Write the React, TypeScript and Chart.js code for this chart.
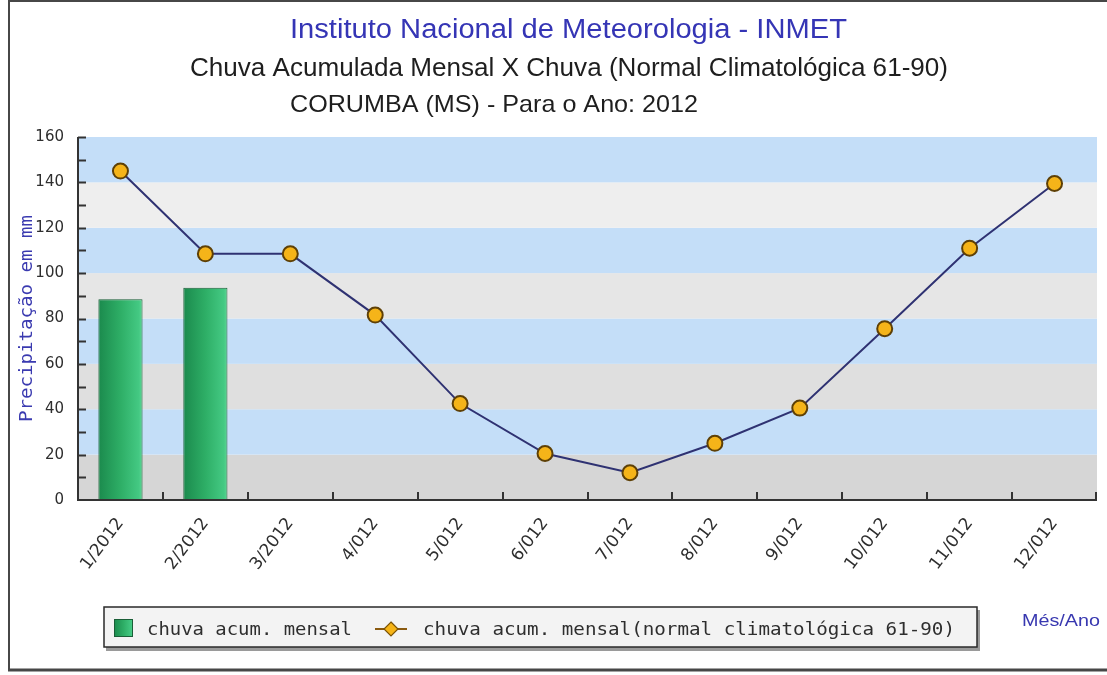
import React, { useEffect, useRef } from "react";
import { Chart, registerables } from "chart.js";

Chart.register(...registerables);

const categories = [
  "1/2012", "2/2012", "3/2012", "4/012", "5/012", "6/012",
  "7/012", "8/012", "9/012", "10/012", "11/012", "12/012",
];
const monthlyRain: (number | null)[] = [88.5, 93.5, null, null, null, null, null, null, null, null, null, null];
const normalRain = [145, 108.5, 108.5, 81.5, 42.5, 20.5, 12, 25, 40.5, 75.5, 111, 139.5];
const seriesLabels = ["chuva acum. mensal", "chuva acum. mensal(normal climatológica 61-90)"];
const titleLines = [
  "Instituto Nacional de Meteorologia - INMET",
  "Chuva Acumulada Mensal X Chuva (Normal Climatológica 61-90)",
  "CORUMBA (MS) - Para o Ano: 2012",
];
const yAxisTitle = "Precipitação em mm";
const xAxisTitle = "Més/Ano";
const yMin = 0;
const yMax = 160;
const yStep = 20;
const yMinorStep = 10;

function fitText(ctx: CanvasRenderingContext2D, text: string, left: number, baseline: number, width: number, font: string, color: string) {
  ctx.save();
  ctx.font = font;
  ctx.fillStyle = color;
  ctx.textAlign = "left";
  ctx.textBaseline = "alphabetic";
  const w = ctx.measureText(text).width;
  ctx.translate(left, baseline);
  ctx.scale(width / w, 1);
  ctx.fillText(text, 0, 0);
  ctx.restore();
}

function greenGradient(ctx: CanvasRenderingContext2D, x0: number, x1: number) {
  const g = ctx.createLinearGradient(x0, 0, x1, 0);
  g.addColorStop(0, "#1b8a4d");
  g.addColorStop(0.5, "#2eae66");
  g.addColorStop(0.92, "#44c983");
  g.addColorStop(1, "#5fd896");
  return g;
}

const decorPlugin = {
  id: "decor",
  beforeDraw(chart: any) {
    const { ctx, width, height } = chart;
    ctx.save();
    ctx.fillStyle = "#ffffff";
    ctx.fillRect(0, 0, width, height);
    ctx.restore();
  },
  beforeDatasetsDraw(chart: any) {
    const { ctx, chartArea } = chart;
    const ys = chart.scales.y;
    const grays = ["#d6d6d6", "#dfdfdf", "#e6e6e6", "#eeeeee"];
    ctx.save();
    for (let v = yMin, i = 0; v < yMax; v += yStep, i++) {
      const yTop = ys.getPixelForValue(v + yStep);
      const yBot = ys.getPixelForValue(v);
      ctx.fillStyle = i % 2 === 0 ? grays[Math.floor(i / 2)] : "#c4def8";
      ctx.fillRect(chartArea.left, yTop, chartArea.right - chartArea.left, yBot - yTop);
    }
    ctx.restore();
  },
  afterDraw(chart: any) {
    const { ctx, chartArea } = chart;
    const xs = chart.scales.x;
    const ys = chart.scales.y;
    ctx.save();
    // axes
    ctx.strokeStyle = "#333333";
    ctx.lineWidth = 2;
    ctx.beginPath();
    ctx.moveTo(chartArea.left, chartArea.top);
    ctx.lineTo(chartArea.left, chartArea.bottom);
    ctx.lineTo(chartArea.right, chartArea.bottom);
    ctx.stroke();
    // y ticks
    ctx.beginPath();
    for (let v = yMin + yMinorStep; v <= yMax; v += yMinorStep) {
      const y = Math.round(ys.getPixelForValue(v)) + 0.5;
      ctx.moveTo(chartArea.left, y);
      ctx.lineTo(chartArea.left + 8, y);
    }
    // x ticks at category boundaries
    for (let i = 1; i <= categories.length; i++) {
      const x = i < categories.length
        ? (xs.getPixelForValue(i - 1) + xs.getPixelForValue(i)) / 2
        : chartArea.right - 1;
      ctx.moveTo(Math.round(x), chartArea.bottom);
      ctx.lineTo(Math.round(x), chartArea.bottom - 8);
    }
    ctx.stroke();
    ctx.restore();

    // titles
    fitText(ctx, titleLines[0], 290, 38, 557, "27px 'Liberation Sans', Arial, sans-serif", "#3535b5");
    fitText(ctx, titleLines[1], 190, 76, 758, "25px 'Liberation Sans', Arial, sans-serif", "#1e1e1e");
    fitText(ctx, titleLines[2], 290, 112, 408, "24px 'Liberation Sans', Arial, sans-serif", "#1e1e1e");

    // y title
    ctx.save();
    ctx.translate(32, (chartArea.top + chartArea.bottom) / 2);
    ctx.rotate(-Math.PI / 2);
    ctx.font = "18px 'DejaVu Sans Mono', monospace";
    const yw = ctx.measureText(yAxisTitle).width;
    ctx.scale(207 / yw, 1);
    ctx.fillStyle = "#3a3ab0";
    ctx.textAlign = "center";
    ctx.textBaseline = "alphabetic";
    ctx.fillText(yAxisTitle, 0, 0);
    ctx.restore();

    // legend box
    ctx.save();
    ctx.fillStyle = "#9a9a9a";
    ctx.fillRect(106, 610, 874, 41);
    ctx.fillStyle = "#f3f3f3";
    ctx.fillRect(104, 607, 873, 40);
    ctx.strokeStyle = "#2a2a2a";
    ctx.lineWidth = 1.5;
    ctx.strokeRect(104, 607, 873, 40);
    // green square
    ctx.fillStyle = greenGradient(ctx, 114, 133);
    ctx.fillRect(114, 619, 19, 18);
    ctx.strokeStyle = "#1a5e37";
    ctx.lineWidth = 1;
    ctx.strokeRect(114.5, 619.5, 18, 17);
    // line icon
    ctx.strokeStyle = "#8a5a10";
    ctx.lineWidth = 2;
    ctx.beginPath();
    ctx.moveTo(375, 629);
    ctx.lineTo(407, 629);
    ctx.stroke();
    ctx.beginPath();
    ctx.moveTo(391, 622);
    ctx.lineTo(398, 629);
    ctx.lineTo(391, 636);
    ctx.lineTo(384, 629);
    ctx.closePath();
    ctx.fillStyle = "#f6b417";
    ctx.fill();
    ctx.strokeStyle = "#7a5206";
    ctx.lineWidth = 1.2;
    ctx.stroke();
    ctx.restore();
    fitText(ctx, seriesLabels[0], 147, 635, 205, "18px 'DejaVu Sans Mono', monospace", "#2e2e2e");
    fitText(ctx, seriesLabels[1], 423, 635, 532, "18px 'DejaVu Sans Mono', monospace", "#2e2e2e");

    // x title
    fitText(ctx, xAxisTitle, 1022, 626, 78, "17px 'Liberation Sans', Arial, sans-serif", "#3838b0");

    // frame
    ctx.save();
    ctx.strokeStyle = "#474747";
    ctx.lineWidth = 2;
    ctx.beginPath();
    ctx.moveTo(9, 1);
    ctx.lineTo(1107, 1);
    ctx.moveTo(9, 0);
    ctx.lineTo(9, 671);
    ctx.stroke();
    ctx.lineWidth = 3;
    ctx.beginPath();
    ctx.moveTo(8, 670);
    ctx.lineTo(1107, 670);
    ctx.stroke();
    ctx.restore();
  },
};

export default function App() {
  const canvasRef = useRef<HTMLCanvasElement | null>(null);

  useEffect(() => {
    document.body.style.margin = "0";
    const canvas = canvasRef.current;
    if (!canvas) return;
    const chart = new Chart(canvas, {
      type: "bar",
      data: {
        labels: categories,
        datasets: [
          {
            type: "line",
            label: seriesLabels[1],
            data: normalRain,
            borderColor: "#2f3272",
            borderWidth: 2,
            tension: 0,
            pointRadius: 7.5,
            pointBackgroundColor: "#f5b419",
            pointBorderColor: "#5e4006",
            pointBorderWidth: 2,
            order: 1,
          } as any,
          {
            type: "bar",
            label: seriesLabels[0],
            data: monthlyRain,
            backgroundColor: (c: any) => {
              const ch = c.chart;
              if (!ch.chartArea) return "#2eae66";
              const xs = ch.scales.x;
              const cx = xs.getPixelForValue(c.dataIndex);
              const half = (xs.width / categories.length) * 0.52 / 2;
              return greenGradient(ch.ctx, cx - half, cx + half);
            },
            borderColor: "#1a5e37",
            borderWidth: 1,
            barPercentage: 0.52,
            categoryPercentage: 1,
            order: 2,
          } as any,
        ],
      },
      options: {
        responsive: false,
        animation: false,
        devicePixelRatio: 1,
        layout: { padding: { top: 137, left: 10, right: 10, bottom: 0 } },
        plugins: {
          legend: { display: false },
          title: { display: false },
          tooltip: { enabled: false },
        },
        scales: {
          x: {
            offset: true,
            grid: { display: false, drawTicks: false },
            border: { display: false },
            ticks: {
              autoSkip: false,
              minRotation: 53,
              maxRotation: 53,
              padding: 14,
              color: "#2e2e2e",
              font: { family: "'DejaVu Sans', sans-serif", size: 17 },
            },
            afterFit: (s: any) => {
              s.height = 175;
            },
          },
          y: {
            min: yMin,
            max: yMax,
            grid: { display: false, drawTicks: false },
            border: { display: false },
            ticks: {
              stepSize: yStep,
              padding: 14,
              color: "#2e2e2e",
              font: { family: "'DejaVu Sans', sans-serif", size: 15 },
            },
            afterFit: (s: any) => {
              s.width = 68;
            },
          },
        },
      },
      plugins: [decorPlugin],
    });
    return () => chart.destroy();
  }, []);

  return (
    <div style={{ width: 1107, height: 675 }}>
      <canvas ref={canvasRef} width={1107} height={675} style={{ display: "block" }} />
    </div>
  );
}
